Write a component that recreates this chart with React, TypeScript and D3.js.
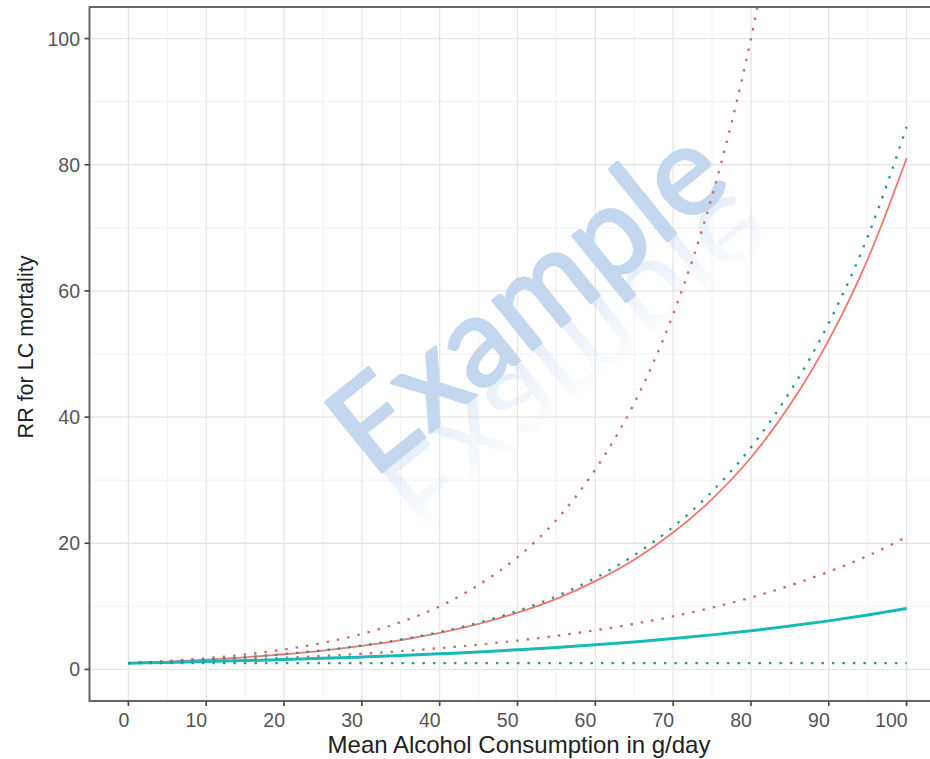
import * as d3 from 'd3';
import { useEffect, useRef } from 'react';

// g/day, read every 5 units
const doses = [0, 5, 10, 15, 20, 25, 30, 35, 40, 45, 50, 55, 60, 65, 70, 75, 80, 85, 90, 95, 100];

const redEst = [1, 1.25, 1.55, 1.93, 2.41, 3.0, 3.74, 4.66, 5.8, 7.22, 9.0, 11.2, 14.0, 17.4, 21.7, 27.0, 33.6, 41.9, 52.2, 65.0, 81.0];
const redUpper = [1, 1.33, 1.78, 2.37, 3.16, 4.22, 5.63, 7.51, 10.0, 13.4, 17.8, 23.7, 31.7, 42.2, 56.3, 75.0, 100.0, 133.4];
const redLower = [1, 1.16, 1.36, 1.58, 1.84, 2.14, 2.49, 2.9, 3.38, 3.93, 4.58, 5.33, 6.21, 7.23, 8.41, 9.8, 11.4, 13.3, 15.5, 18.0, 21.0];
const tealEst = [1, 1.12, 1.25, 1.4, 1.57, 1.76, 1.98, 2.21, 2.48, 2.77, 3.11, 3.48, 3.9, 4.37, 4.89, 5.48, 6.14, 6.87, 7.7, 8.62, 9.65];
const tealUpper = [1, 1.25, 1.56, 1.95, 2.44, 3.04, 3.8, 4.75, 5.93, 7.41, 9.26, 11.6, 14.5, 18.1, 22.6, 28.2, 35.2, 44.0, 54.9, 68.6, 86.0];
const tealLower = [1, 1, 1, 1, 1, 1, 1, 1, 1, 1, 1, 1, 1, 1, 1, 1, 1, 1, 1, 1, 1];

const xTicks = [0, 10, 20, 30, 40, 50, 60, 70, 80, 90, 100];
const xMinor = [5, 15, 25, 35, 45, 55, 65, 75, 85, 95];
const yTicks = [0, 20, 40, 60, 80, 100];
const yMinor = [10, 30, 50, 70, 90];

const RED = '#F1766C';
const TEAL = '#17BAB6';
const WM = '#C3D7EF';

export default function App() {
  const ref = useRef<SVGSVGElement>(null);

  useEffect(() => {
    const width = 930;
    const height = 759;
    const svg = d3.select(ref.current);
    svg.selectAll('*').remove();

    const left = 89.5, right = 945.5, top = 7, bottom = 701;
    const x = d3.scaleLinear().domain([-5, 105]).range([left, right]);
    const y = d3.scaleLinear().domain([-5, 105]).range([bottom, top]);
    const font = 'Liberation Sans, Arial, sans-serif';

    svg.append('rect').attr('width', width).attr('height', height).attr('fill', '#fff');

    const defs = svg.append('defs');
    defs.append('clipPath').attr('id', 'panel')
      .append('rect').attr('x', left).attr('y', top).attr('width', right - left).attr('height', bottom - top);
    const fade = defs.append('linearGradient').attr('id', 'fade')
      .attr('gradientUnits', 'userSpaceOnUse')
      .attr('x1', 0).attr('y1', 0).attr('x2', 0).attr('y2', -75);
    fade.append('stop').attr('offset', '0%').attr('stop-color', WM).attr('stop-opacity', 0.4);
    fade.append('stop').attr('offset', '100%').attr('stop-color', WM).attr('stop-opacity', 0);

    // grid
    const grid = svg.append('g').attr('clip-path', 'url(#panel)');
    grid.selectAll('line.xm').data(xMinor).enter().append('line')
      .attr('x1', d => x(d)).attr('x2', d => x(d)).attr('y1', top).attr('y2', bottom)
      .attr('stroke', '#F0F0F0').attr('stroke-width', 0.9);
    grid.selectAll('line.ym').data(yMinor).enter().append('line')
      .attr('y1', d => y(d)).attr('y2', d => y(d)).attr('x1', left).attr('x2', right)
      .attr('stroke', '#F0F0F0').attr('stroke-width', 0.9);
    grid.selectAll('line.xM').data(xTicks).enter().append('line')
      .attr('x1', d => x(d)).attr('x2', d => x(d)).attr('y1', top).attr('y2', bottom)
      .attr('stroke', '#E6E6E6').attr('stroke-width', 1.3);
    grid.selectAll('line.yM').data(yTicks).enter().append('line')
      .attr('y1', d => y(d)).attr('y2', d => y(d)).attr('x1', left).attr('x2', right)
      .attr('stroke', '#E6E6E6').attr('stroke-width', 1.3);

    // watermark with faint reflection
    const wm = svg.append('g').attr('transform', 'translate(373,479) rotate(-39)');
    wm.append('text').attr('transform', 'scale(1,-1)').attr('font-family', 'Lato, sans-serif')
      .attr('font-size', 125).attr('fill', 'url(#fade)').text('Example');
    wm.append('text').attr('font-family', 'Lato, sans-serif').attr('font-size', 125)
      .attr('fill', WM).attr('stroke', WM).attr('stroke-width', 3).attr('stroke-linejoin', 'round')
      .text('Example');

    // curves
    const line = d3.line<number>()
      .x((_, i) => x(doses[i]))
      .y(d => y(d))
      .curve(d3.curveMonotoneX);
    const plot = svg.append('g').attr('clip-path', 'url(#panel)').attr('fill', 'none');
    const series = [
      { v: redUpper, c: '#C96F68', w: 2.3, dash: '2.5,8' },
      { v: redLower, c: '#C96F68', w: 2.3, dash: '2.5,8' },
      { v: redEst, c: RED, w: 1.8, dash: null },
      { v: tealEst, c: TEAL, w: 3, dash: null },
      { v: tealUpper, c: '#2A9695', w: 2.3, dash: '2.5,8' },
      { v: tealLower, c: '#2A9695', w: 2.3, dash: '2.5,8' },
    ];
    series.forEach(s => {
      plot.append('path').attr('d', line(s.v))
        .attr('stroke', s.c).attr('stroke-width', s.w)
        .attr('stroke-dasharray', s.dash);
    });

    // panel border
    svg.append('rect').attr('x', left).attr('y', top).attr('width', right - left).attr('height', bottom - top)
      .attr('fill', 'none').attr('stroke', '#666').attr('stroke-width', 2);

    // x axis
    const xa = svg.append('g');
    xa.selectAll('line').data(xTicks).enter().append('line')
      .attr('x1', d => x(d)).attr('x2', d => x(d)).attr('y1', bottom).attr('y2', bottom + 5)
      .attr('stroke', '#444').attr('stroke-width', 1.6);
    xa.selectAll('text').data(xTicks).enter().append('text')
      .attr('x', d => x(d) + 1).attr('y', 727)
      .attr('text-anchor', 'end').attr('font-family', font).attr('font-size', 19.5)
      .attr('fill', '#555').text(d => d);

    // y axis
    const ya = svg.append('g');
    ya.selectAll('line').data(yTicks).enter().append('line')
      .attr('y1', d => y(d)).attr('y2', d => y(d)).attr('x1', left - 5).attr('x2', left)
      .attr('stroke', '#444').attr('stroke-width', 1.6);
    ya.selectAll('text').data(yTicks).enter().append('text')
      .attr('x', 80).attr('y', d => y(d)).attr('dy', '0.36em')
      .attr('text-anchor', 'end').attr('font-family', font).attr('font-size', 19.5)
      .attr('fill', '#555').text(d => d);

    // titles
    svg.append('text').attr('x', 519).attr('y', 753).attr('text-anchor', 'middle')
      .attr('font-family', font).attr('font-size', 24).attr('fill', '#222')
      .text('Mean Alcohol Consumption in g/day');
    svg.append('text').attr('transform', 'translate(33,347) rotate(-90)').attr('text-anchor', 'middle')
      .attr('font-family', font).attr('font-size', 21.5).attr('fill', '#222')
      .text('RR for LC mortality');
  }, []);

  return (
    <svg ref={ref} width={930} height={759} style={{ position: 'absolute', left: 0, top: 0 }} />
  );
}
